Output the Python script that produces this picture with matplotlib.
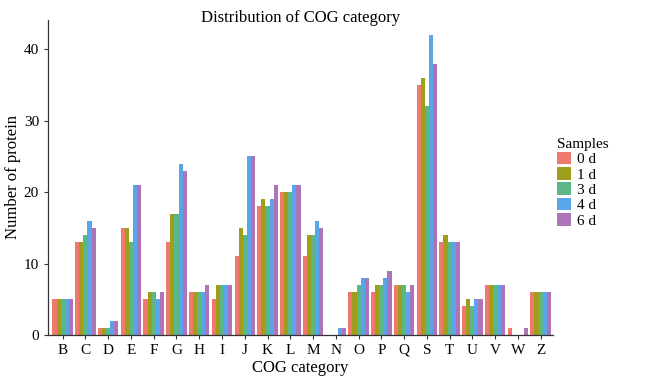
import matplotlib.pyplot as plt
import numpy as np

plt.rcParams["font.family"] = ["Liberation Serif", "DejaVu Serif"]

categories = ["B", "C", "D", "E", "F", "G", "H", "I", "J", "K", "L", "M",
              "N", "O", "P", "Q", "S", "T", "U", "V", "W", "Z"]
samples = ["0 d", "1 d", "3 d", "4 d", "6 d"]
counts = {
    "0 d": [5, 13, 1, 15, 5, 13, 6, 5, 11, 18, 20, 11, 0, 6, 6, 7, 35, 13, 4, 7, 1, 6],
    "1 d": [5, 13, 1, 15, 6, 17, 6, 7, 15, 19, 20, 14, 0, 6, 7, 7, 36, 14, 5, 7, 0, 6],
    "3 d": [5, 14, 1, 13, 6, 17, 6, 7, 14, 18, 20, 14, 0, 7, 7, 7, 32, 13, 4, 7, 0, 6],
    "4 d": [5, 16, 2, 21, 5, 24, 6, 7, 25, 19, 21, 16, 1, 8, 8, 6, 42, 13, 5, 7, 0, 6],
    "6 d": [5, 15, 2, 21, 6, 23, 7, 7, 25, 21, 21, 15, 1, 8, 9, 7, 38, 13, 5, 7, 1, 6],
}
colors = ["#EE7A6E", "#9E9E1A", "#5BB787", "#5AA5EA", "#AE74B8"]


def main() -> None:
    fig = plt.figure(figsize=(6.5, 3.85), dpi=100)
    ax = fig.add_axes([0.074, 0.13, 0.777, 0.818])

    x = np.arange(len(categories))
    width = 0.18
    for i, name in enumerate(samples):
        ax.bar(x + (i - 2) * width, counts[name], width=width,
               color=colors[i], label=name, linewidth=0)

    ax.set_xticks(x)
    ax.set_xticklabels(categories)
    ax.set_xlim(-0.64, len(categories) - 0.45)
    ax.set_ylim(0, 44.1)
    ax.set_yticks([0, 10, 20, 30, 40])
    ax.tick_params(labelsize=11, length=3, width=0.8, color="#333333")
    for side in ["top", "right"]:
        ax.spines[side].set_visible(False)
    for side in ["left", "bottom"]:
        ax.spines[side].set_color("#333333")
        ax.spines[side].set_linewidth(0.9)

    ax.set_xlabel("COG category", fontsize=12, labelpad=2)
    ax.set_ylabel("Number of protein", fontsize=12, labelpad=2)
    fig.text(0.462, 0.952, "Distribution of COG category", fontsize=12,
             ha="center", va="center")

    leg = ax.legend(title="Samples", loc="upper left", bbox_to_anchor=(0.99, 0.655),
                    frameon=False, fontsize=11, title_fontsize=11,
                    handlelength=0.9, handleheight=0.9, labelspacing=0.05,
                    handletextpad=0.4, borderaxespad=0.2)
    leg._legend_box.align = "left"

    fig.savefig("out.png", dpi=100)
    plt.close(fig)


if __name__ == "__main__":
    main()
